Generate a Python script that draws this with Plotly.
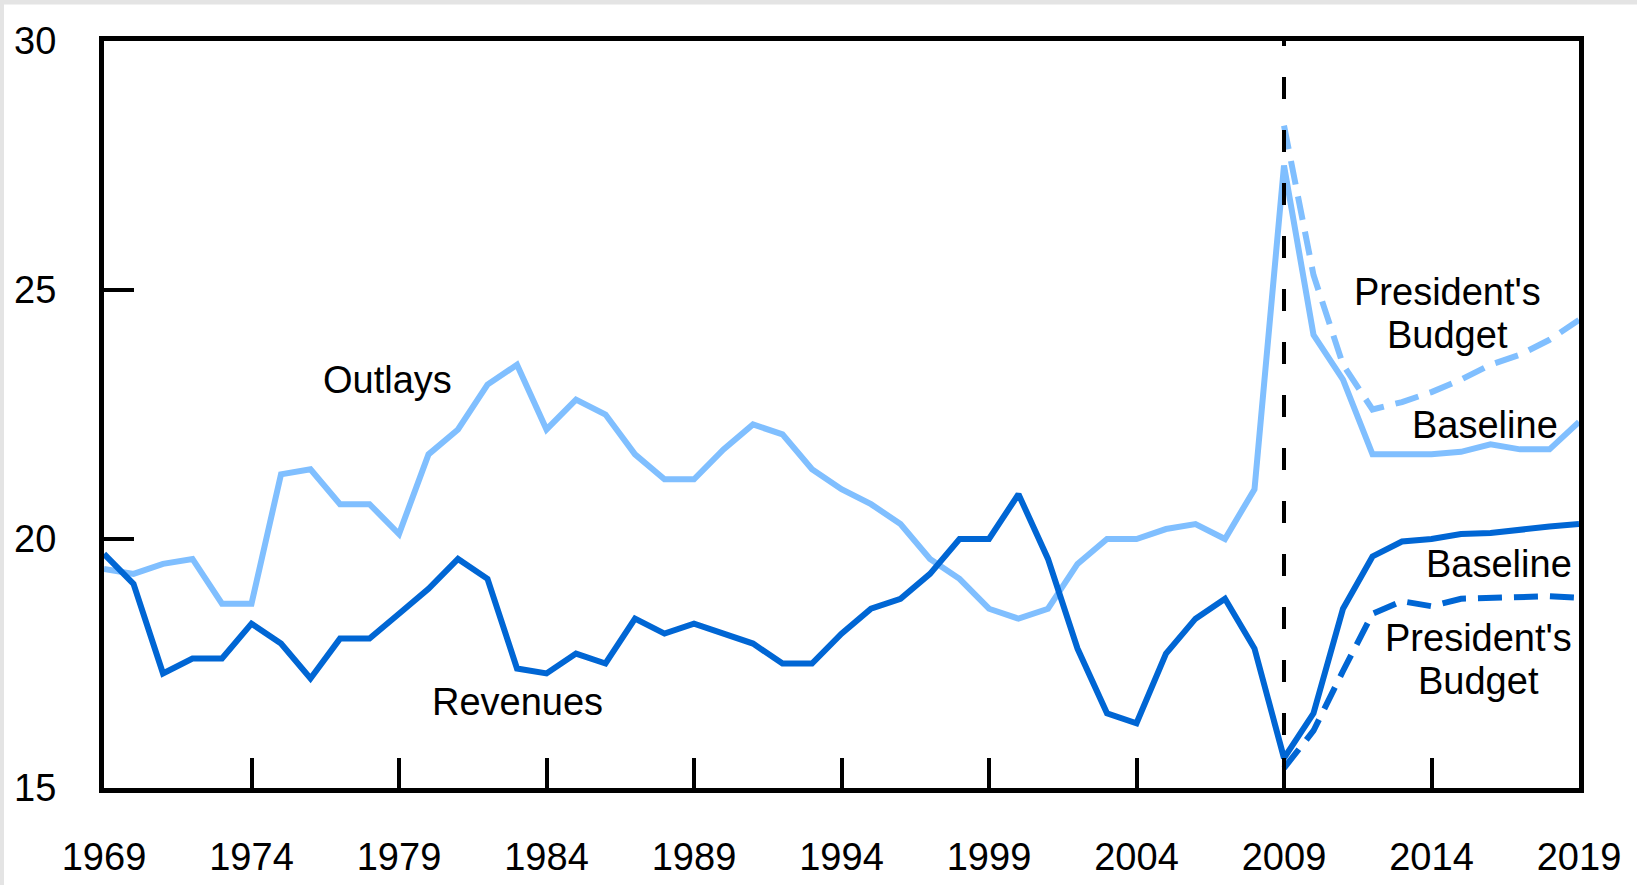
import plotly.graph_objects as go

# anni fiscali
anni = list(range(1969, 2020))
anni_budget = list(range(2009, 2020))

# entrate (% del PIL): storico 1969-2008 + baseline 2009-2019
entrate = [19.7, 19.1, 17.3, 17.6, 17.6, 18.3, 17.9, 17.2, 18.0, 18.0,
           18.5, 19.0, 19.6, 19.2, 17.4, 17.3, 17.7, 17.5, 18.4, 18.1,
           18.3, 18.1, 17.9, 17.5, 17.5, 18.1, 18.6, 18.8, 19.3, 20.0,
           20.0, 20.9, 19.6, 17.8, 16.5, 16.3, 17.7, 18.4, 18.8, 17.8,
           15.6, 16.5, 18.6, 19.65, 19.95, 20.0, 20.1, 20.12, 20.2, 20.25, 20.3]

# spese (% del PIL): storico 1969-2008 + baseline 2009-2019
spese = [19.4, 19.3, 19.5, 19.6, 18.7, 18.7, 21.3, 21.4, 20.7, 20.7,
         20.1, 21.7, 22.2, 23.1, 23.5, 22.2, 22.8, 22.5, 21.7, 21.2,
         21.2, 21.8, 22.3, 22.1, 21.4, 21.0, 20.7, 20.3, 19.6, 19.2,
         18.6, 18.4, 18.6, 19.5, 20.0, 20.0, 20.2, 20.3, 20.0, 21.0,
         27.5, 24.1, 23.2, 21.7, 21.7, 21.7, 21.75, 21.9, 21.8, 21.8, 22.35]

# budget del presidente 2009-2019
entrate_budget = [15.4, 16.15, 17.35, 18.5, 18.75, 18.65, 18.8, 18.82, 18.85, 18.85, 18.82]
spese_budget = [28.3, 25.3, 23.5, 22.6, 22.75, 22.95, 23.2, 23.5, 23.7, 24.0, 24.4]

tick_anni = list(range(1969, 2020, 5))
tick_valori = [15, 20, 25, 30]

blu_chiaro = "#80BFFF"
blu_scuro = "#0066D4"
font = "Liberation Sans, Arial, sans-serif"

fig = go.Figure()

fig.add_trace(go.Scatter(x=anni, y=spese, mode="lines",
                         line=dict(color=blu_chiaro, width=6)))
fig.add_trace(go.Scatter(x=anni_budget, y=spese_budget, mode="lines",
                         line=dict(color=blu_chiaro, width=6, dash="24px,12px")))
fig.add_trace(go.Scatter(x=anni, y=entrate, mode="lines",
                         line=dict(color=blu_scuro, width=6)))
fig.add_trace(go.Scatter(x=anni_budget, y=entrate_budget, mode="lines",
                         line=dict(color=blu_scuro, width=6, dash="24px,12px")))

# linea tratteggiata verticale sul 2009
fig.add_shape(type="line", x0=2009, x1=2009, y0=15, y1=30, xref="x", yref="y",
              line=dict(color="black", width=4, dash="22px,31px"))

# bordo grigio della pagina scansionata (alto e sinistra)
fig.add_shape(type="rect", xref="paper", yref="paper", x0=-0.075, x1=1.04,
              y0=1.049, y1=1.06, line_width=0, fillcolor="#e4e4e4", layer="below")
fig.add_shape(type="rect", xref="paper", yref="paper", x0=-0.075, x1=-0.0678,
              y0=-0.13, y1=1.06, line_width=0, fillcolor="#e4e4e4", layer="below")

etichette = [
    ("Outlays", 1978.6, 23.2),
    ("Revenues", 1983.0, 16.72),
    ("President's", 2014.55, 24.95),
    ("Budget", 2014.55, 24.1),
    ("Baseline", 2015.8, 22.28),
    ("Baseline", 2016.3, 19.5),
    ("President's", 2015.6, 18.02),
    ("Budget", 2015.6, 17.15),
]
for testo, x, y in etichette:
    fig.add_annotation(x=x, y=y, text=testo, showarrow=False,
                       font=dict(family=font, size=38, color="black"))

fig.update_layout(
    width=1637, height=890,
    margin=dict(l=104, r=58, t=41, b=95),
    paper_bgcolor="white", plot_bgcolor="white",
    showlegend=False,
    font=dict(family=font, size=38, color="black"),
)

fig.update_xaxes(range=[1969, 2019], tickvals=tick_anni, showgrid=False, zeroline=False,
                 showline=True, linecolor="black", linewidth=5, mirror=True,
                 ticks="inside", ticklen=30, tickwidth=4, tickcolor="black",
                 ticklabelstandoff=31)
fig.update_yaxes(range=[15, 30], tickvals=tick_valori, showgrid=False, zeroline=False,
                 showline=True, linecolor="black", linewidth=5, mirror=True,
                 ticks="inside", ticklen=30, tickwidth=4, tickcolor="black",
                 ticklabelstandoff=35)

# niente margine del body, cosi la figura parte da (0,0) nella pagina
fig.write_html("out.html", config={"displayModeBar": False},
               post_script="document.body.style.margin='0';")
